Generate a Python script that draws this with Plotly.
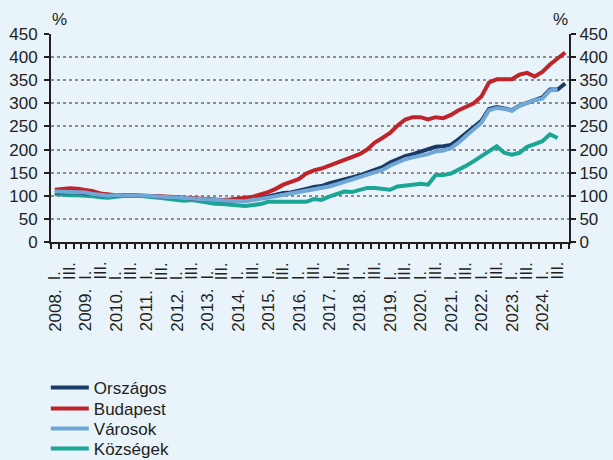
import plotly.graph_objects as go

# ---- data ----
years = list(range(2008, 2025))
quarter_names = ["I.", "II.", "III.", "IV."]
shown_quarters = ["I.", "III."]
periods = [f"{y}. {q}" for y in years for q in quarter_names]

orszagos = [107, 108, 108, 107, 106, 104, 101, 100, 100, 101, 101, 101,
            100, 99, 98, 97, 95, 93, 92, 91, 90, 89, 89, 89,
            89, 90, 92, 95, 99, 103, 106, 107, 110, 115, 119, 121,
            127, 131, 135, 138, 144, 150, 156, 162, 172, 179, 186, 190,
            195, 200, 206, 207, 210, 222, 236, 248, 262, 288, 292, 289,
            285, 295, 301, 307, 313, 330, 330, 343]
budapest = [113, 115, 116, 115, 113, 110, 105, 102, 101, 101, 101, 101,
            100, 99, 99, 98, 97, 95, 93, 92, 91, 90, 91, 92,
            95, 96, 98, 102, 108, 115, 124, 130, 136, 148, 155, 159,
            165, 171, 177, 182, 190, 200, 215, 225, 236, 252, 265, 270,
            270, 265, 270, 268, 275, 285, 293, 300, 315, 345, 352, 353,
            352, 362, 366, 358, 368, 384, 398, 410]
varosok = [109, 109, 108, 108, 107, 104, 101, 100, 101, 101, 102, 101,
           100, 99, 98, 97, 95, 93, 92, 91, 90, 89, 89, 88,
           88, 88, 90, 93, 96, 99, 102, 104, 107, 111, 114, 117,
           120, 125, 130, 134, 140, 146, 151, 156, 165, 172, 179, 183,
           186, 190, 196, 198, 203, 215, 230, 245, 258, 285, 290, 288,
           284, 295, 302, 307, 310, 328, 330, None]
kozsegek = [104, 102, 101, 101, 101, 99, 97, 96, 98, 100, 101, 100,
            99, 97, 95, 93, 91, 89, 91, 88, 85, 83, 82, 81,
            79, 78, 80, 82, 87, 87, 86, 85, 86, 87, 93, 91,
            98, 103, 109, 108, 113, 117, 117, 116, 113, 120, 123, 124,
            126, 124, 145, 145, 148, 156, 165, 175, 186, 196, 207, 193,
            189, 193, 206, 212, 218, 233, 225, None]

y_ticks = [0, 50, 100, 150, 200, 250, 300, 350, 400, 450]

# ---- style ----
BG = "#E8F3FA"
AX = "#231F20"
FONT = "Liberation Sans"

series = [
    ("Községek", kozsegek, "#1BA595"),
    ("Országos", orszagos, "#1B3A66"),
    ("Budapest", budapest, "#BE2429"),
    ("Városok", varosok, "#6FA8D6"),
]
legend_order = ["Országos", "Budapest", "Városok", "Községek"]
legend_ids = ["legend", "legend2", "legend3", "legend4"]
legend_y = [-0.702, -0.803, -0.899, -0.995]

fig = go.Figure()
for name, vals, color in series:
    k = legend_order.index(name)
    fig.add_trace(go.Scatter(
        x=periods, y=vals, name=name, mode="lines",
        line=dict(color=color, width=4),
        legend=legend_ids[k],
    ))
# invisible trace to activate the right-hand axis
fig.add_trace(go.Scatter(x=periods[:1], y=[None], yaxis="y2",
                         showlegend=False, hoverinfo="skip"))

annotations = []
for y in years:
    for q in shown_quarters:
        annotations.append(dict(
            x=f"{y}. {q}", xref="x", y=-0.192, yref="paper",
            text=q, textangle=-90, showarrow=False,
            xanchor="center", yanchor="bottom",
            font=dict(family=FONT, size=16, color=AX)))
    annotations.append(dict(
        x=f"{y}. I.", xref="x", y=-0.44, yref="paper",
        text=f"{y}.", textangle=-90, showarrow=False,
        xanchor="center", yanchor="bottom",
        font=dict(family=FONT, size=17, color=AX)))
for xp in (0.017, 0.984):
    annotations.append(dict(
        x=xp, xref="paper", y=1.07, yref="paper", text="%",
        showarrow=False, xanchor="center", yanchor="middle",
        font=dict(family=FONT, size=17, color=AX)))

yaxis_common = dict(
    range=[0, 450], tickmode="array", tickvals=y_ticks,
    ticks="outside", ticklen=5, tickwidth=2, tickcolor=AX,
    showline=True, linecolor=AX, linewidth=2,
    zeroline=False, fixedrange=True,
    tickfont=dict(family=FONT, size=17, color=AX),
)

legend_common = dict(
    orientation="v", x=-0.01, xanchor="left", yanchor="middle",
    font=dict(family=FONT, size=17, color=AX),
    bgcolor="rgba(0,0,0,0)", itemwidth=38,
)

layout_legends = {
    lid: dict(**legend_common, y=ly) for lid, ly in zip(legend_ids, legend_y)
}

fig.update_layout(
    width=613, height=460,
    paper_bgcolor=BG, plot_bgcolor=BG,
    margin=dict(l=51, r=44, t=34, b=218, autoexpand=False),
    font=dict(family=FONT, size=17, color=AX),
    showlegend=True,
    xaxis=dict(
        type="category", categoryorder="array", categoryarray=periods,
        range=[-0.5, len(periods) - 0.5],
        tickmode="linear", tick0=0, dtick=1, tickson="boundaries",
        ticks="outside", ticklen=5, tickwidth=2, tickcolor=AX,
        showticklabels=False, showgrid=False,
        showline=True, linecolor=AX, linewidth=2, zeroline=False,
    ),
    yaxis=dict(**yaxis_common, side="left", ticklabelstandoff=3,
               showgrid=True, gridcolor="#8C8C8C", gridwidth=1.5,
               griddash="dot"),
    yaxis2=dict(**yaxis_common, side="right", overlaying="y",
                showgrid=False),
    annotations=annotations,
    **layout_legends,
)

fig.write_html(
    "out.html",
    config={"displayModeBar": False},
    post_script="document.body.style.margin='0px';"
                "document.body.style.background='" + BG + "';",
)
